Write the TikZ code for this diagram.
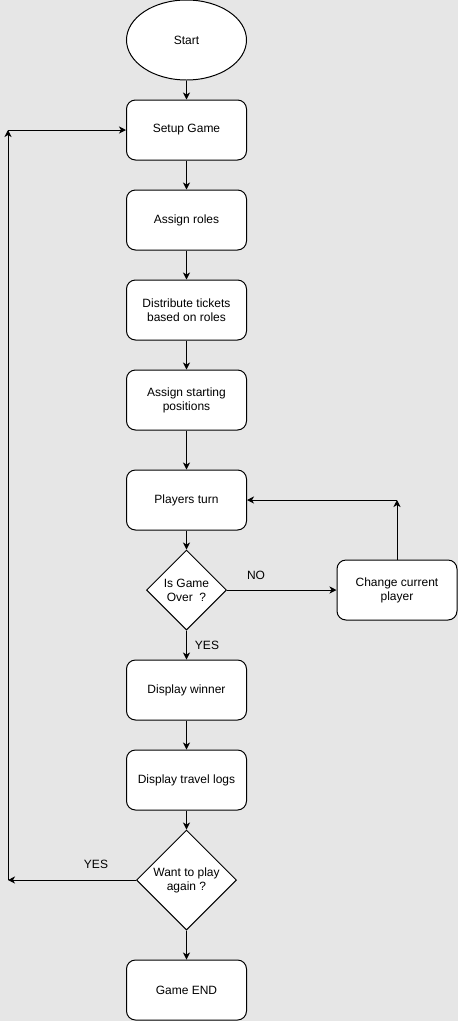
\documentclass[tikz,border=0pt]{standalone}
\usepackage{fontspec}
\setmainfont{Liberation Sans}
\usetikzlibrary{shapes.geometric}
\usetikzlibrary{arrows.meta}
\definecolor{canvas}{HTML}{E6E6E6}

\begin{document}
\begin{tikzpicture}[x=1pt, y=-1pt,
    every node/.style={font=\fontsize{12}{14}\selectfont, align=center},
    proc/.style={draw, fill=white, line width=1pt, rounded corners=9pt, minimum width=120pt, minimum height=60pt, inner sep=0pt},
    decide/.style={draw, fill=white, line width=1pt, diamond, aspect=1, inner sep=0pt},
    terminal/.style={draw, fill=white, line width=1pt, ellipse, minimum width=120pt, minimum height=80pt, inner sep=0pt},
    flow/.style={line width=1pt, -{Stealth[length=7pt, width=7pt, inset=2pt]}}]
    % Background
    \fill[canvas] (0,0) rectangle (458,1021);
    \useasboundingbox (0,0) rectangle (458,1021);

    % Main column
    \node[terminal] (start) at (186.5,40) {Start};
    \node[proc] (setup) at (186.5,130) {Setup Game};
    \node[proc] (roles) at (186.5,220) {Assign roles};
    \node[proc] (tickets) at (186.5,310) {Distribute tickets\\based on roles};
    \node[proc] (positions) at (186.5,400) {Assign starting\\positions};
    \node[proc] (turn) at (186.5,500) {Players turn};
    \node[decide, minimum width=80pt, minimum height=80pt] (over) at (186.5,590) {Is Game\\Over\ \ ?};
    \node[proc] (change) at (397,590) {Change current\\player};
    \node[proc] (winner) at (186.5,690) {Display winner};
    \node[proc] (logs) at (186.5,780) {Display travel logs};
    \node[decide, minimum width=100pt, minimum height=100pt] (again) at (186.5,880) {Want to play\\again ?};
    \node[proc] (gameend) at (186.5,990) {Game END};

    % Bends
    \coordinate (loopbot) at (8,880);
    \coordinate (looptop) at (8,130);
    \coordinate (backtop) at (397,500);

    % Arrows
    \draw[flow] (start) -- (setup);
    \draw[flow] (setup) -- (roles);
    \draw[flow] (roles) -- (tickets);
    \draw[flow] (tickets) -- (positions);
    \draw[flow] (positions) -- (turn);
    \draw[flow] (turn) -- (over);
    \draw[flow] (over) -- (change);
    \draw[flow] (change) -- (backtop);
    \draw[flow] (backtop) -- (turn);
    \draw[flow] (over) -- (winner);
    \draw[flow] (winner) -- (logs);
    \draw[flow] (logs) -- (again);
    \draw[flow] (again) -- (gameend);
    \draw[flow] (again) -- (loopbot);
    \draw[flow] (loopbot) -- (looptop);
    \draw[flow] (looptop) -- (setup);

    % Labels
    \node (nolabel) at (256,575) {NO};
    \node (yesover) at (207,645) {YES};
    \node (yesagain) at (96,864) {YES};
\end{tikzpicture}
\end{document}
